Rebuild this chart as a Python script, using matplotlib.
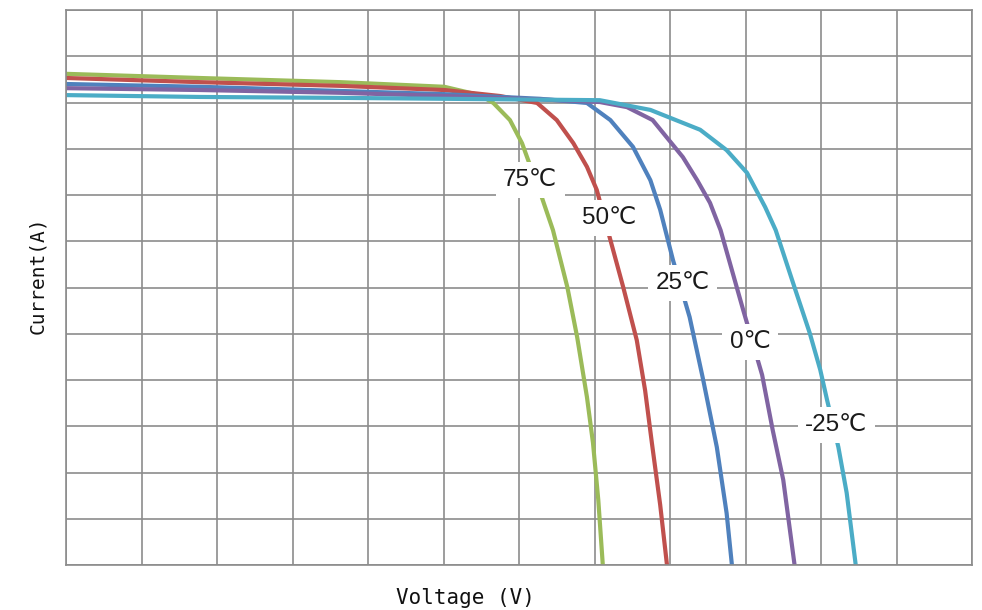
import matplotlib
matplotlib.use("Agg")
import matplotlib.pyplot as plt

# I-V curves of a PV module at five cell temperatures (grid units, 12 x 12 divisions)
temps = ["75℃", "50℃", "25℃", "0℃", "-25℃"]
colors = ["#9bbb59", "#c0504d", "#4f81bd", "#8064a2", "#4bacc6"]

v_75 = [0.00, 1.77, 3.63, 5.01, 5.48, 5.66, 5.88, 6.04, 6.12, 6.30, 6.45,
        6.64, 6.77, 6.90, 6.98, 7.05, 7.11]
i_75 = [10.62, 10.53, 10.44, 10.34, 10.16, 9.99, 9.62, 9.12, 8.76, 7.96, 7.24,
        6.01, 4.93, 3.63, 2.64, 1.41, 0.00]

v_50 = [0.00, 1.77, 3.63, 5.01, 5.75, 6.24, 6.50, 6.72, 6.90, 7.03, 7.21, 7.38,
        7.56, 7.67, 7.76, 7.87, 7.96]
i_50 = [10.53, 10.44, 10.36, 10.27, 10.14, 9.99, 9.62, 9.12, 8.61, 8.11, 7.03, 6.01,
        4.86, 3.78, 2.64, 1.30, 0.00]

v_25 = [0.00, 1.77, 3.63, 5.01, 6.28, 6.90, 7.21, 7.51, 7.74, 7.87, 8.04, 8.26,
        8.44, 8.62, 8.75, 8.82]
i_25 = [10.40, 10.34, 10.25, 10.18, 10.08, 9.99, 9.62, 9.04, 8.32, 7.68, 6.59, 5.36,
        4.00, 2.55, 1.12, 0.00]

v_0 = [0.00, 1.77, 3.63, 5.01, 6.54, 7.07, 7.43, 7.77, 8.17, 8.36, 8.53, 8.67,
       8.97, 9.22, 9.36, 9.50, 9.65]
i_0 = [10.31, 10.27, 10.21, 10.14, 10.05, 10.01, 9.90, 9.62, 8.82, 8.32, 7.83, 7.24,
       5.51, 4.11, 2.92, 1.84, 0.00]

v_m25 = [0.00, 1.77, 3.63, 5.01, 7.07, 7.74, 8.40, 8.75, 9.02, 9.26, 9.40, 9.66,
         9.85, 9.99, 10.08, 10.23, 10.34, 10.46]
i_m25 = [10.16, 10.12, 10.10, 10.08, 10.05, 9.84, 9.41, 8.97, 8.48, 7.74, 7.24, 5.95,
         5.02, 4.22, 3.57, 2.55, 1.56, 0.00]

# label anchor points on each curve
label_v = [6.15, 7.19, 8.17, 9.06, 10.20]
label_i = [8.32, 7.50, 6.10, 4.82, 3.03]

curves = [(v_75, i_75), (v_50, i_50), (v_25, i_25), (v_0, i_0), (v_m25, i_m25)]

fig = plt.figure(figsize=(9.82, 6.10), dpi=100)
ax = fig.add_axes([66 / 982, 45 / 610, 906 / 982, 555 / 610])

ax.set_xlim(0, 12)
ax.set_ylim(0, 12)
ax.set_xticks(range(13))
ax.set_yticks(range(13))
ax.tick_params(length=0, labelbottom=False, labelleft=False)
ax.grid(True, color="#8c8c8c", linewidth=1.2, zorder=0)
ax.set_axisbelow(True)
for s in ax.spines.values():
    s.set_color("#8c8c8c")
    s.set_linewidth(1.2)

for (v, i), c in zip(curves, colors):
    ax.plot(v, i, color=c, linewidth=3.0, solid_capstyle="round",
            solid_joinstyle="round", zorder=2)

for t, x, y in zip(temps, label_v, label_i):
    ax.text(x, y, t, ha="center", va="center", fontsize=17.5,
            family=["Liberation Sans", "DejaVu Sans"], color="#1a1a1a", zorder=4,
            bbox=dict(boxstyle="square,pad=0.3", facecolor="white", edgecolor="none"))

fig.text(465 / 982, 1 - 598 / 610, "Voltage (V)", ha="center", va="center",
         fontsize=15, family="DejaVu Sans Mono", color="#111111")
fig.text(38 / 982, 1 - 275 / 610, "Current(A)", ha="center", va="center",
         rotation=90, fontsize=14, family="DejaVu Sans Mono", color="#111111")

fig.savefig("out.png", dpi=100, facecolor="white")
